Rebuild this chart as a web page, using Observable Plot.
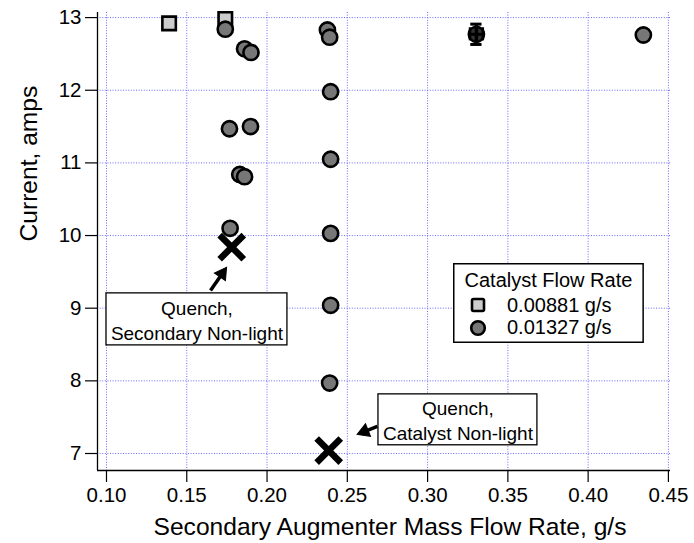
<!DOCTYPE html>
<html>
<head>
<meta charset="utf-8">
<script src="https://cdn.jsdelivr.net/npm/d3@7"></script>
<script src="https://cdn.jsdelivr.net/npm/@observablehq/plot@0.6"></script>
<style>
  html, body { margin: 0; padding: 0; background: #fff; }
  #wrap { position: relative; width: 694px; height: 543px; font-family: "Liberation Sans", Arial, sans-serif; }
  #legend { position: absolute; }
</style>
</head>
<body>
<div id="wrap"></div>
<script>
// Catalyst flow rate 0.00881 g/s (squares)
const sqX = [0.139, 0.174];
const sqY = [12.92, 12.98];
// Catalyst flow rate 0.01327 g/s (circles)
const ciX = [0.174, 0.186, 0.190, 0.1766, 0.1897, 0.183, 0.186, 0.177,
             0.2376, 0.239, 0.2396, 0.2396, 0.2396, 0.2396, 0.2390, 0.4344];
const ciY = [12.84, 12.57, 12.52, 11.47, 11.50, 10.84, 10.81, 10.10,
             12.83, 12.73, 11.98, 11.05, 10.03, 9.04, 7.97, 12.76];
// point with error bars
const errX = [0.3304];
const errY = [12.77];
const errDX = [0.004];
const errDY = [0.14];
// quench points
const qX = [0.178, 0.2384];
const qY = [9.84, 7.04];
// annotations
const noteText = ["Quench,\nSecondary Non-light", "Quench,\nCatalyst Non-light"];
const noteX1 = [0.1000, 0.2694];
const noteX2 = [0.2127, 0.3684];
const noteY1 = [8.488, 7.113];
const noteY2 = [9.204, 7.814];
const arrowFromX = [0.1648, 0.2687];
const arrowFromY = [9.245, 7.374];
const arrowToX = [0.1747, 0.2563];
const arrowToY = [9.56, 7.264];
// ticks
const xTicks = [0.10, 0.15, 0.20, 0.25, 0.30, 0.35, 0.40, 0.45];
const yTicks = [7, 8, 9, 10, 11, 12, 13];
const legendTitle = "Catalyst Flow Rate";
const seriesNames = ["0.00881 g/s", "0.01327 g/s"];
const legendX = [0.3161, 0.4350];
const legendY = [9.615, 8.514];

const W = 694, H = 543, mL = 97, mR = 24, mT = 12, mB = 73;
const xDomain = [0.0944, 0.4513];
const yDomain = [6.766, 13.07];
// helper scales matching the plot's, used only to orient the arrowheads
const hx = d3.scaleLinear(xDomain, [mL, W - mR]);
const hy = d3.scaleLinear(yDomain, [H - mB, mT]);

const squares = sqX.map((x, i) => ({x, y: sqY[i]}));
const circles = ciX.map((x, i) => ({x, y: ciY[i]}));
const errs = errX.map((x, i) => ({x, y: errY[i], dx: errDX[i], dy: errDY[i]}));
const quench = qX.map((x, i) => ({x, y: qY[i]}));
const notes = noteText.map((t, i) => ({t, x1: noteX1[i], x2: noteX2[i], y1: noteY1[i], y2: noteY2[i]}));
const HEAD = 7.5; // px from tip to triangle centroid
const arrows = arrowFromX.map((x, i) => {
  const px1 = hx(x), py1 = hy(arrowFromY[i]), px2 = hx(arrowToX[i]), py2 = hy(arrowToY[i]);
  const len = Math.hypot(px2 - px1, py2 - py1);
  const ux = (px2 - px1) / len, uy = (py2 - py1) / len;
  const cx = px2 - ux * HEAD, cy = py2 - uy * HEAD;
  const angle = Math.atan2(ux, -uy) * 180 / Math.PI;
  return {x1: x, y1: arrowFromY[i], x2: hx.invert(cx), y2: hy.invert(cy), angle};
});

const grid = {stroke: "#5a5aff", strokeOpacity: 0.9, strokeDasharray: "1,1.6", strokeWidth: 1};
const FS = 20.5;

const plot = Plot.plot({
  width: W, height: H,
  marginLeft: mL, marginRight: mR, marginTop: mT, marginBottom: mB,
  style: {fontFamily: "Liberation Sans, Arial, sans-serif", background: "#fff"},
  x: {domain: xDomain},
  y: {domain: yDomain},
  marks: [
    Plot.gridX(xTicks, grid),
    Plot.gridY(yTicks, grid),
    Plot.axisX(xTicks, {tickSize: 12, tickPadding: 5, fontSize: FS, tickFormat: d3.format(".2f"), label: null, strokeWidth: 1.2}),
    Plot.axisY(yTicks, {tickSize: 12, tickPadding: 4, fontSize: FS, tickFormat: d3.format("d"), label: null, strokeWidth: 1.2}),
    Plot.ruleX([xDomain[0]], {strokeWidth: 1.3}),
    Plot.ruleY([yDomain[0]], {strokeWidth: 1.3}),
    Plot.text(["Secondary Augmenter Mass Flow Rate, g/s"], {frameAnchor: "bottom", dy: 57, dx: 6, fontSize: 24.6, lineAnchor: "middle", text: d => d}),
    Plot.text(["Current, amps"], {frameAnchor: "left", dx: -68, rotate: -90, fontSize: 24.6, lineAnchor: "middle", text: d => d}),
    // annotation boxes
    Plot.rect(notes, {x1: "x1", x2: "x2", y1: "y1", y2: "y2", fill: "white", stroke: "black", strokeWidth: 1.3}),
    Plot.text(notes, {x: d => (d.x1 + d.x2) / 2, y: d => (d.y1 + d.y2) / 2, text: "t", fontSize: 19, lineHeight: 1.3, fill: "black"}),
    Plot.link(arrows, {x1: "x1", y1: "y1", x2: "x2", y2: "y2", strokeWidth: 3.5, stroke: "black"}),
    Plot.dot(arrows, {x: "x2", y: "y2", symbol: "triangle", r: 5, rotate: "angle", fill: "black", stroke: "black", strokeWidth: 1}),
    // data
    Plot.dot(squares, {x: "x", y: "y", symbol: "square", r: 7.6, fill: "#cccccc", stroke: "black", strokeWidth: 2.6}),
    Plot.dot(circles, {x: "x", y: "y", symbol: "circle", r: 7.6, fill: "#777777", stroke: "black", strokeWidth: 2.6}),
    Plot.dot(errs, {x: "x", y: "y", symbol: "circle", r: 7.6, fill: "#333333", stroke: "black", strokeWidth: 2.6}),
    Plot.ruleX(errs, {x: "x", y1: d => d.y - d.dy, y2: d => d.y + d.dy, strokeWidth: 3.5}),
    Plot.ruleY(errs, {y: d => d.y - d.dy, x1: d => d.x - 0.0035, x2: d => d.x + 0.0035, strokeWidth: 3}),
    Plot.ruleY(errs, {y: d => d.y + d.dy, x1: d => d.x - 0.0035, x2: d => d.x + 0.0035, strokeWidth: 3}),
    Plot.ruleY(errs, {y: "y", x1: d => d.x - d.dx, x2: d => d.x + d.dx, strokeWidth: 3}),
    Plot.ruleX(errs, {x: d => d.x - d.dx, y1: d => d.y - 0.09, y2: d => d.y + 0.09, strokeWidth: 2.5}),
    Plot.ruleX(errs, {x: d => d.x + d.dx, y1: d => d.y - 0.09, y2: d => d.y + 0.09, strokeWidth: 2.5}),
    Plot.dot(quench, {x: "x", y: "y", symbol: "times", r: 11, stroke: "black", strokeWidth: 6.5, strokeLinecap: "butt"})
  ]
});
const wrap = document.getElementById("wrap");
wrap.appendChild(plot);

// legend placed inside the plot frame, using the plot's own scales
const xs = plot.scale("x"), ys = plot.scale("y");
const lx1 = xs.apply(legendX[0]), lx2 = xs.apply(legendX[1]);
const ly1 = ys.apply(legendY[0]), ly2 = ys.apply(legendY[1]);
const w = lx2 - lx1, h = ly2 - ly1;
const lg = document.createElement("div");
lg.id = "legend";
lg.style.left = lx1 + "px";
lg.style.top = ly1 + "px";
lg.innerHTML =
  `<svg width="${w}" height="${h}" style="display:block;font-family:'Liberation Sans',Arial,sans-serif;font-size:20px">
     <rect x="0.75" y="0.75" width="${w - 1.5}" height="${h - 1.5}" fill="white" stroke="black" stroke-width="1.5"/>
     <text x="${w / 2}" y="24" text-anchor="middle">${legendTitle}</text>
     <rect x="19" y="36" width="12" height="12" rx="1.5" fill="#cccccc" stroke="black" stroke-width="2.6"/>
     <text x="54" y="49">${seriesNames[0]}</text>
     <circle cx="25" cy="65" r="6.8" fill="#777777" stroke="black" stroke-width="2.6"/>
     <text x="54" y="70.5">${seriesNames[1]}</text>
   </svg>`;
wrap.appendChild(lg);
</script>
</body>
</html>
